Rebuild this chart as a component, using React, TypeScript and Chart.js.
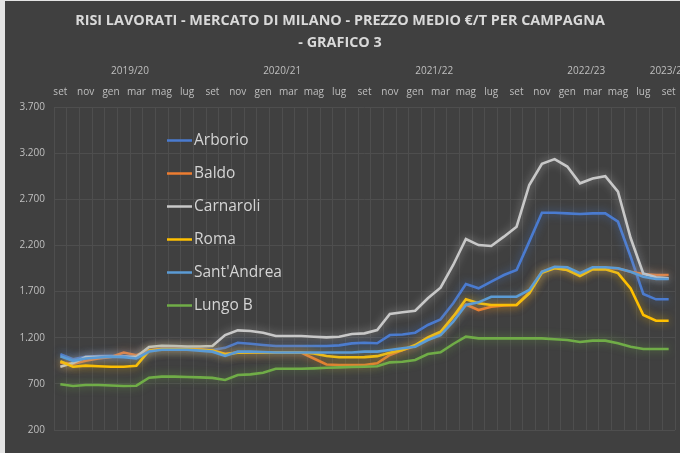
import React, { useEffect, useRef } from 'react';
import { Chart, registerables } from 'chart.js';

Chart.register(...registerables);

// Monthly categories, set 2019 -> set 2023
const categories = [
  'set', 'ott', 'nov', 'dic', 'gen', 'feb', 'mar', 'apr', 'mag', 'giu', 'lug', 'ago',
  'set', 'ott', 'nov', 'dic', 'gen', 'feb', 'mar', 'apr', 'mag', 'giu', 'lug', 'ago',
  'set', 'ott', 'nov', 'dic', 'gen', 'feb', 'mar', 'apr', 'mag', 'giu', 'lug', 'ago',
  'set', 'ott', 'nov', 'dic', 'gen', 'feb', 'mar', 'apr', 'mag', 'giu', 'lug', 'ago',
  'set',
];
const campaigns = ['2019/20', '2020/21', '2021/22', '2022/23', '2023/24'];

const arborio = [
  1020, 966, 994, 1000, 1005, 1000, 985, 1060, 1080, 1080, 1080, 1075,
  1067, 1090, 1146, 1135, 1121, 1110, 1110, 1110, 1110, 1110, 1117, 1139,
  1146, 1140, 1229, 1235, 1254, 1338, 1399, 1573, 1782, 1735, 1807, 1879,
  1934, 2241, 2554, 2554, 2547, 2540, 2547, 2547, 2457, 2077, 1674, 1616,
  1616,
];
const baldo = [
  930, 915, 950, 975, 990, 1040, 1010, 1065, 1080, 1080, 1080, 1075,
  1060, 1025, 1040, 1040, 1040, 1040, 1040, 1038, 975, 910, 904, 904,
  904, 922, 1013, 1067, 1110, 1193, 1247, 1428, 1560, 1500, 1536, 1550,
  1554, 1690, 1915, 1960, 1935, 1880, 1950, 1955, 1950, 1915, 1890, 1879,
  1879,
];
const carnaroli = [
  886, 925, 990, 994, 994, 994, 994, 1100, 1113, 1110, 1105, 1105,
  1110, 1229, 1280, 1272, 1254, 1218, 1218, 1218, 1211, 1204, 1211, 1240,
  1247, 1283, 1457, 1475, 1492, 1627, 1742, 1988, 2270, 2204, 2194, 2295,
  2403, 2855, 3085, 3135, 3055, 2873, 2925, 2950, 2782, 2280, 1895, 1855,
  1843,
];
const roma = [
  945, 886, 897, 890, 886, 886, 897, 1060, 1075, 1075, 1075, 1070,
  1060, 1020, 1038, 1040, 1040, 1040, 1040, 1040, 1030, 1002, 988, 988,
  990, 1000, 1038, 1067, 1121, 1204, 1265, 1428, 1616, 1573, 1554, 1554,
  1554, 1681, 1904, 1952, 1934, 1869, 1941, 1941, 1900, 1735, 1446, 1384,
  1384,
];
const santAndrea = [
  1000, 950, 975, 985, 995, 990, 975, 1050, 1070, 1070, 1070, 1060,
  1049, 1002, 1049, 1049, 1045, 1040, 1040, 1040, 1040, 1040, 1040, 1040,
  1049, 1049, 1067, 1085, 1103, 1175, 1229, 1373, 1554, 1583, 1644, 1644,
  1644, 1717, 1915, 1969, 1963, 1898, 1963, 1963, 1952, 1915, 1861, 1836,
  1836,
];
const lungoB = [
  695, 677, 688, 688, 682, 677, 680, 767, 778, 778, 774, 770,
  765, 742, 796, 803, 821, 864, 864, 864, 868, 875, 879, 883,
  886, 890, 933, 940, 958, 1023, 1042, 1132, 1211, 1193, 1193, 1193,
  1193, 1193, 1193, 1183, 1175, 1153, 1168, 1168, 1139, 1103, 1078, 1078,
  1078,
];

const seriesNames = ['Arborio', 'Baldo', 'Carnaroli', 'Roma', "Sant'Andrea", 'Lungo B'];
const seriesValues = [arborio, baldo, carnaroli, roma, santAndrea, lungoB];
const seriesColors = ['#4a7bd0', '#ED7D31', '#c8c8c8', '#FFC000', '#5B9BD5', '#70AD47'];

const yMin = 200;
const yMax = 3700;
const yStep = 500;

const FONT = "'Open Sans', 'Noto Sans', sans-serif";
const BG = '#404040';
const TEXT = '#bfbfbf';

function hexToRgba(hex: string, a: number) {
  const h = hex.replace('#', '');
  const r = parseInt(h.slice(0, 2), 16);
  const g = parseInt(h.slice(2, 4), 16);
  const b = parseInt(h.slice(4, 6), 16);
  return `rgba(${r},${g},${b},${a})`;
}

function fmtIt(v: number) {
  return String(v).replace(/\B(?=(\d{3})+(?!\d))/g, '.');
}

// centres of each campaign (set..ago) group, derived from the categories
function campaignCenters() {
  const starts: number[] = [];
  categories.forEach((m, i) => { if (m === 'set') starts.push(i); });
  return starts.map((s, k) => {
    const end = k + 1 < starts.length ? starts[k + 1] - 1 : categories.length - 1;
    return (s + end) / 2;
  });
}

const bgPlugin = {
  id: 'bg',
  beforeDraw(chart: any) {
    const { ctx, width, height } = chart;
    ctx.save();
    ctx.fillStyle = BG;
    ctx.fillRect(0, 0, width, height);
    ctx.restore();
  },
};

const glowPlugin = {
  id: 'glow',
  beforeDatasetDraw(chart: any, args: any) {
    const ctx = chart.ctx;
    const ds = chart.data.datasets[args.index];
    ctx.save();
    ctx.shadowColor = hexToRgba(ds.borderColor, 0.65);
    ctx.shadowBlur = 8;
  },
  afterDatasetDraw(chart: any) {
    chart.ctx.restore();
  },
};

const insideLegend = {
  id: 'insideLegend',
  afterDatasetsDraw(chart: any) {
    const { ctx, chartArea } = chart;
    ctx.save();
    const x0 = chartArea.left + 113;
    chart.data.datasets.forEach((ds: any, i: number) => {
      const y = chartArea.top + 33.5 + i * 33;
      ctx.strokeStyle = ds.borderColor;
      ctx.lineWidth = 2.5;
      ctx.beginPath();
      ctx.moveTo(x0, y);
      ctx.lineTo(x0 + 25, y);
      ctx.stroke();
      ctx.fillStyle = '#d4d4d4';
      ctx.font = `15.5px ${FONT}`;
      ctx.textBaseline = 'middle';
      ctx.textAlign = 'left';
      ctx.fillText(ds.label, x0 + 27, y);
    });
    ctx.restore();
  },
};

export default function App() {
  const ref = useRef<HTMLCanvasElement | null>(null);

  useEffect(() => {
    document.body.style.margin = '0';
    if (!ref.current) return;
    const centers = campaignCenters();
    const chart = new Chart(ref.current, {
      type: 'line',
      data: {
        labels: categories,
        datasets: seriesNames.map((name, i) => ({
          label: name,
          data: seriesValues[i],
          borderColor: seriesColors[i],
          backgroundColor: seriesColors[i],
          borderWidth: 2.6,
          pointRadius: 0,
          tension: 0,
          fill: false,
          order: seriesNames.length - i,
        })),
      },
      options: {
        responsive: false,
        animation: false,
        events: [],
        layout: { padding: { left: 0, right: 5, top: 0, bottom: 23 } },
        plugins: {
          legend: { display: false },
          tooltip: { enabled: false },
          title: {
            display: true,
            text: ['RISI LAVORATI - MERCATO DI MILANO - PREZZO MEDIO €/T PER CAMPAGNA', '- GRAFICO 3'],
            color: '#d9d9d9',
            font: { family: FONT, size: 14.4, weight: 'bold', lineHeight: 22 / 14.4 },
            padding: { top: 9, bottom: 11 },
          },
        },
        scales: {
          x: {
            type: 'category',
            position: 'top',
            offset: true,
            weight: 0,
            grid: { display: true, offset: true, color: '#4e4e4e', lineWidth: 1, drawTicks: false },
            border: { display: false },
            ticks: {
              autoSkip: false,
              maxRotation: 0,
              minRotation: 0,
              padding: 9,
              color: TEXT,
              font: { family: FONT, size: 10, lineHeight: 1.2 },
              callback: (_v: any, i: number) => (i % 2 === 0 ? categories[i] : ''),
            },
            afterFit: (s: any) => { s.paddingLeft = 0; s.paddingRight = 0; s.height = 21; },
          },
          x2: {
            type: 'linear',
            position: 'top',
            weight: 1,
            min: -0.5,
            max: categories.length - 0.5,
            grid: { display: false, drawTicks: false },
            border: { display: false },
            afterBuildTicks: (s: any) => { s.ticks = centers.map((v) => ({ value: v })); },
            ticks: {
              autoSkip: false,
              maxRotation: 0,
              padding: 9,
              color: TEXT,
              font: { family: FONT, size: 10, lineHeight: 1.2 },
              callback: (v: any) => {
                const k = centers.indexOf(v);
                return k >= 0 ? campaigns[k] : '';
              },
            },
            afterFit: (s: any) => { s.paddingLeft = 0; s.paddingRight = 0; s.height = 21; },
          },
          y: {
            type: 'linear',
            min: yMin,
            max: yMax,
            grid: { color: '#4e4e4e', lineWidth: 1, drawTicks: false },
            border: { display: false },
            ticks: {
              stepSize: yStep,
              padding: 9,
              color: TEXT,
              font: { family: FONT, size: 10 },
              callback: (v: any) => fmtIt(Number(v)),
            },
            afterFit: (s: any) => { s.width = 49; },
          },
        },
      },
      plugins: [bgPlugin, glowPlugin, insideLegend],
    });
    return () => chart.destroy();
  }, []);

  return (
    <div style={{ position: 'relative', width: 680, height: 453, background: '#e4e4e4', overflow: 'hidden' }}>
      <canvas ref={ref} width={675} height={452} style={{ position: 'absolute', left: 5, top: 1, width: 675, height: 452 }} />
    </div>
  );
}
